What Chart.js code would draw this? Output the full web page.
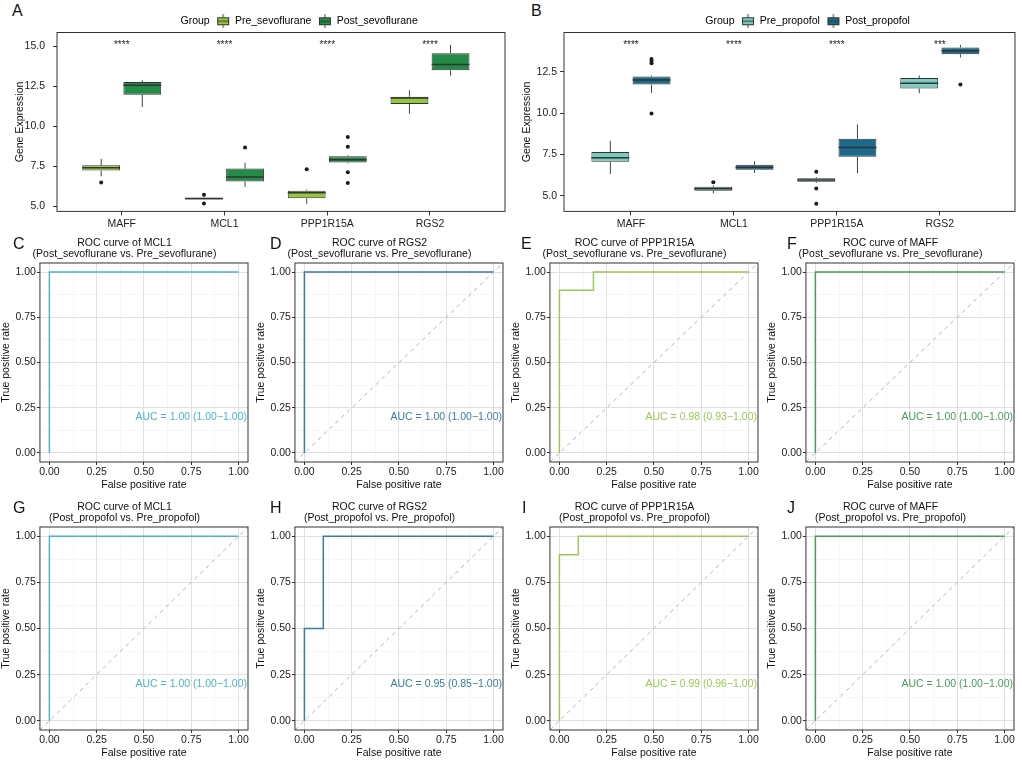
<!DOCTYPE html>
<html>
<head>
<meta charset="utf-8">
<title>Gene expression and ROC curves</title>
<script src="https://cdn.jsdelivr.net/npm/chart.js@4.4.1/dist/chart.umd.min.js"></script>
<style>
  html, body { margin: 0; padding: 0; background: #fff; }
  body { position: relative; width: 1022px; height: 760px; overflow: hidden; font-family: 'Liberation Sans', Arial, sans-serif; }
  canvas { position: absolute; }
  .tag { position: absolute; font-size: 16px; line-height: 16px; color: #111; }
</style>
</head>
<body>
<div class="tag" style="left:12px;top:3px">A</div>
<div class="tag" style="left:531px;top:3px">B</div>
<canvas id="boxA" width="510" height="232" style="left:0;top:0"></canvas>
<canvas id="boxB" width="512" height="232" style="left:510px;top:0"></canvas>
<script>
'use strict';

// ---- box plot data ----
var genes = ['MAFF', 'MCL1', 'PPP1R15A', 'RGS2'];

// each entry: [lower whisker, Q1, median, Q3, upper whisker]
var preSevoStats  = [[6.88, 7.24, 7.41, 7.57, 7.97], [5.40, 5.42, 5.48, 5.54, 5.57], [5.15, 5.50, 5.84, 5.98, 6.05], [10.79, 11.40, 11.78, 11.86, 12.26]];
var postSevoStats = [[11.21, 11.99, 12.57, 12.78, 12.89], [6.21, 6.55, 6.84, 7.36, 7.72], [7.68, 7.74, 7.91, 8.14, 8.20], [13.18, 13.51, 13.87, 14.58, 15.10]];
var preSevoOutliers  = [[6.49], [5.73, 5.17], [7.32], []];
var postSevoOutliers = [[], [8.68], [9.33, 8.72, 7.13, 6.46], []];
var sevoStars = ['****', '****', '****', '****'];

var preProStats  = [[6.31, 7.06, 7.30, 7.64, 8.33], [5.14, 5.30, 5.42, 5.54, 5.62], [5.78, 5.85, 5.95, 6.05, 6.13], [11.21, 11.49, 11.81, 12.12, 12.28]];
var postProStats = [[11.23, 11.73, 12.00, 12.22, 12.28], [6.37, 6.57, 6.71, 6.87, 7.08], [6.35, 7.36, 7.92, 8.45, 9.31], [13.37, 13.57, 13.77, 13.97, 14.13]];
var preProOutliers  = [[], [5.81], [6.45, 5.44, 4.52], []];
var postProOutliers = [[13.27, 13.15, 13.02, 9.98], [], [], [11.73]];
var proStars = ['****', '****', '****', '***'];

var sevoYTicks = [5, 7.5, 10, 12.5, 15];
var sevoYLabels = ['5.0', '7.5', '10.0', '12.5', '15.0'];
var proYTicks = [5, 7.5, 10, 12.5];
var proYLabels = ['5.0', '7.5', '10.0', '12.5'];

// ---- ROC data ----
var fprMCL1Sevo = [0, 0, 1],             tprMCL1Sevo = [0, 1, 1];
var fprRGS2Sevo = [0, 0, 1],             tprRGS2Sevo = [0, 1, 1];
var fprPPPSevo  = [0, 0, 0.18, 0.18, 1], tprPPPSevo  = [0, 0.9, 0.9, 1, 1];
var fprMAFFSevo = [0, 0, 1],             tprMAFFSevo = [0, 1, 1];
var fprMCL1Pro  = [0, 0, 1],             tprMCL1Pro  = [0, 1, 1];
var fprRGS2Pro  = [0, 0, 0.1, 0.1, 1],   tprRGS2Pro  = [0, 0.5, 0.5, 1, 1];
var fprPPPPro   = [0, 0, 0.1, 0.1, 1],   tprPPPPro   = [0, 0.9, 0.9, 1, 1];
var fprMAFFPro  = [0, 0, 1],             tprMAFFPro  = [0, 1, 1];
var chanceFpr = [-0.05, 1.05], chanceTpr = [-0.05, 1.05];

var aucMCL1Sevo = 'AUC = 1.00 (1.00\u22121.00)';
var aucRGS2Sevo = 'AUC = 1.00 (1.00\u22121.00)';
var aucPPPSevo  = 'AUC = 0.98 (0.93\u22121.00)';
var aucMAFFSevo = 'AUC = 1.00 (1.00\u22121.00)';
var aucMCL1Pro  = 'AUC = 1.00 (1.00\u22121.00)';
var aucRGS2Pro  = 'AUC = 0.95 (0.85\u22121.00)';
var aucPPPPro   = 'AUC = 0.99 (0.96\u22121.00)';
var aucMAFFPro  = 'AUC = 1.00 (1.00\u22121.00)';
var aucPos = [0.75, 0.2];

var rocGridTicks = [0, 0.125, 0.25, 0.375, 0.5, 0.625, 0.75, 0.875, 1];
var rocMajorTicks = [0, 0.25, 0.5, 0.75, 1];
var rocTickLabels = ['0.00', '0.25', '0.50', '0.75', '1.00'];

// colours
var colPreSevo = '#96c83c', colPostSevo = '#238a48';
var colPrePro = '#7acdbe', colPostPro = '#1b6a8c';
var colMCL1 = '#4db5c9', colRGS2 = '#3a7ca0', colPPP = '#9dc956', colMAFF = '#4a9a5c';

Chart.defaults.font.family = "'Liberation Sans', Arial, sans-serif";
Chart.defaults.font.size = 10.5;
Chart.defaults.color = '#222';
Chart.defaults.animation = false;

// full border round the plotting panel
var panelFrame = {
  id: 'panelFrame',
  afterDatasetsDraw: function (chart) {
    var a = chart.chartArea, c = chart.ctx;
    c.save();
    c.strokeStyle = '#333';
    c.lineWidth = 1;
    c.strokeRect(a.left, a.top, a.right - a.left, a.bottom - a.top);
    c.restore();
  }
};

// whiskers, medians, outliers and significance stars for the box plots
var boxParts = {
  id: 'boxParts',
  afterDatasetsDraw: function (chart, args, opts) {
    var c = chart.ctx, y = chart.scales.y, x = chart.scales.x;
    chart.data.datasets.forEach(function (ds, di) {
      var meta = chart.getDatasetMeta(di);
      meta.data.forEach(function (bar, i) {
        var s = ds.stats[i], half = bar.width / 2;
        c.save();
        c.strokeStyle = '#444';
        c.lineWidth = 1;
        c.beginPath();
        c.moveTo(bar.x, y.getPixelForValue(s[3])); c.lineTo(bar.x, y.getPixelForValue(s[4]));
        c.moveTo(bar.x, y.getPixelForValue(s[1])); c.lineTo(bar.x, y.getPixelForValue(s[0]));
        c.stroke();
        var ym = y.getPixelForValue(s[2]);
        c.strokeStyle = '#333';
        c.lineWidth = 1.5;
        c.beginPath(); c.moveTo(bar.x - half, ym); c.lineTo(bar.x + half, ym); c.stroke();
        c.fillStyle = '#1a1a1a';
        ds.outliers[i].forEach(function (v) {
          c.beginPath(); c.arc(bar.x, y.getPixelForValue(v), 2, 0, Math.PI * 2); c.fill();
        });
        c.restore();
      });
    });
    // asterisks sit high in the em box, so put the baseline under the value
    c.save();
    c.fillStyle = '#222';
    c.font = "10px 'Liberation Sans'";
    c.textAlign = 'center';
    c.textBaseline = 'alphabetic';
    opts.stars.forEach(function (t, i) {
      c.fillText(t, x.getPixelForValue(i), y.getPixelForValue(opts.starY) + 5.5);
    });
    c.restore();
  }
};

// ggplot centres its legend over the panel and sits it a bit lower
var legendShift = {
  id: 'legendShift',
  afterLayout: function (chart, args, opts) {
    var lg = chart.legend;
    if (!lg) return;
    lg.left += opts.dx; lg.right += opts.dx;
    lg.top += opts.dy; lg.bottom += opts.dy;
  }
};

var aucLabel = {
  id: 'aucLabel',
  afterDatasetsDraw: function (chart, args, o) {
    var c = chart.ctx;
    c.save();
    c.fillStyle = o.color;
    c.font = "10.5px 'Liberation Sans'";
    c.textAlign = 'center';
    c.textBaseline = 'middle';
    c.fillText(o.text, chart.scales.x.getPixelForValue(aucPos[0]), chart.scales.y.getPixelForValue(aucPos[1]));
    c.restore();
  }
};

function keyIcon(fill) {
  var cv = document.createElement('canvas');
  cv.width = 14; cv.height = 14;
  var g = cv.getContext('2d');
  g.strokeStyle = '#444'; g.lineWidth = 1;
  g.beginPath(); g.moveTo(7, 0); g.lineTo(7, 14); g.stroke();
  g.fillStyle = fill;
  g.fillRect(1.5, 3.5, 11, 7);
  g.strokeStyle = '#333';
  g.strokeRect(1.5, 3.5, 11, 7);
  g.beginPath(); g.moveTo(1.5, 7); g.lineTo(12.5, 7); g.stroke();
  return cv;
}
var blankKey = document.createElement('canvas');
blankKey.width = 1; blankKey.height = 1;

function boxSet(label, stats, outliers, col) {
  return {
    label: label,
    data: genes.map(function (g, i) { return { x: i, y: [stats[i][1], stats[i][3]] }; }),
    backgroundColor: col,
    borderColor: '#333',
    borderWidth: 1,
    borderSkipped: false,
    categoryPercentage: 0.8,
    barPercentage: 0.92,
    stats: stats,
    outliers: outliers
  };
}

function boxChart(id, o) {
  return new Chart(document.getElementById(id), {
    type: 'bar',
    data: { datasets: [
      boxSet(o.names[0], o.preStats, o.preOut, o.preCol),
      boxSet(o.names[1], o.postStats, o.postOut, o.postCol)
    ] },
    options: {
      responsive: false,
      layout: { padding: o.pad },
      plugins: {
        tooltip: { enabled: false },
        legend: {
          position: 'top',
          onClick: function () {},
          labels: {
            usePointStyle: true,
            pointStyleWidth: 13,
            padding: 7,
            color: '#111',
            font: { size: 10.5 },
            generateLabels: function (chart) {
              var items = [{ text: 'Group', pointStyle: blankKey, fillStyle: 'rgba(0,0,0,0)', strokeStyle: 'rgba(0,0,0,0)', lineWidth: 0, hidden: false, datasetIndex: -1 }];
              chart.data.datasets.forEach(function (ds, i) {
                items.push({ text: ds.label, pointStyle: keyIcon(ds.backgroundColor), fillStyle: ds.backgroundColor, strokeStyle: '#333', lineWidth: 1, hidden: false, datasetIndex: i });
              });
              return items;
            }
          }
        },
        boxParts: { stars: o.stars, starY: o.starY },
        legendShift: { dx: o.legendDx, dy: 4 }
      },
      scales: {
        x: {
          type: 'linear', min: o.xMin, max: o.xMax, offset: false,
          afterBuildTicks: function (s) { s.ticks = genes.map(function (g, i) { return { value: i }; }); },
          ticks: { autoSkip: false, maxRotation: 0, padding: 2, color: '#222', callback: function (v) { return genes[v]; } },
          grid: { drawOnChartArea: false, offset: false, tickLength: 4, color: '#333' },
          border: { display: false }
        },
        y: {
          min: o.yMin, max: o.yMax,
          afterBuildTicks: function (s) { s.ticks = o.yTicks.map(function (v) { return { value: v }; }); },
          afterFit: function (s) { s.width = o.yAxisWidth; },
          ticks: { padding: o.yTickPad, color: '#222', callback: function (v) { return o.yLabels[o.yTicks.indexOf(v)]; } },
          grid: { drawOnChartArea: false, tickLength: 4, color: '#333' },
          border: { display: false },
          title: { display: true, text: 'Gene Expression', color: '#111', padding: { top: 3, bottom: 1 } }
        }
      }
    },
    plugins: [boxParts, panelFrame, legendShift]
  });
}

boxChart('boxA', {
  names: ['Pre_sevoflurane', 'Post_sevoflurane'],
  preStats: preSevoStats, postStats: postSevoStats,
  preOut: preSevoOutliers, postOut: postSevoOutliers,
  preCol: colPreSevo, postCol: colPostSevo,
  stars: sevoStars, starY: 15.25,
  yTicks: sevoYTicks, yLabels: sevoYLabels, yMin: 4.68, yMax: 15.88,
  xMin: -0.63, xMax: 3.73,
  yTickPad: 8, yAxisWidth: 46,
  pad: { left: 11, right: 5, top: 5, bottom: 0 },
  legendDx: 32
});

boxChart('boxB', {
  names: ['Pre_propofol', 'Post_propofol'],
  preStats: preProStats, postStats: postProStats,
  preOut: preProOutliers, postOut: postProOutliers,
  preCol: colPrePro, postCol: colPostPro,
  stars: proStars, starY: 14.27,
  yTicks: proYTicks, yLabels: proYLabels, yMin: 4.05, yMax: 14.88,
  xMin: -0.65, xMax: 3.73,
  yTickPad: 3, yAxisWidth: 46,
  pad: { left: 8, right: 7, top: 5, bottom: 0 },
  legendDx: 32
});

// ---- ROC panels ----
function isMajor(v) { return rocMajorTicks.indexOf(v) >= 0; }

function rocScale(title, isX) {
  return {
    type: 'linear', min: -0.05, max: 1.05,
    afterBuildTicks: function (s) { s.ticks = rocGridTicks.map(function (v) { return { value: v }; }); },
    ticks: {
      autoSkip: false, maxRotation: 0, padding: isX ? 2 : 1, color: '#222',
      font: { size: 10.5, lineHeight: 1 },
      callback: function (v) { var k = rocMajorTicks.indexOf(v); return k < 0 ? '' : rocTickLabels[k]; }
    },
    grid: {
      color: function (c) { return isMajor(c.tick && c.tick.value) ? '#e0e0e0' : '#f0f0f0'; },
      lineWidth: function (c) { return isMajor(c.tick && c.tick.value) ? 1 : 0.6; },
      tickColor: function (c) { return isMajor(c.tick && c.tick.value) ? '#333' : 'rgba(0,0,0,0)'; },
      tickLength: 3
    },
    border: { display: false },
    title: { display: true, text: title, color: '#111', font: { size: 10.5, lineHeight: 1 },
             padding: isX ? { top: 0, bottom: 0 } : { top: 0, bottom: 3 } }
  };
}

var sevoCompare = '(Post_sevoflurane vs. Pre_sevoflurane)';
var proCompare = '(Post_propofol vs. Pre_propofol)';

var rocPanels = [
  { tag: 'C', left: 0,   top: 226, h: 268, padB: 4, tagX: 13,  gene: 'MCL1',     cmp: sevoCompare, fpr: fprMCL1Sevo, tpr: tprMCL1Sevo, col: colMCL1, auc: aucMCL1Sevo, diag: false },
  { tag: 'D', left: 255, top: 226, h: 268, padB: 4, tagX: 270, gene: 'RGS2',     cmp: sevoCompare, fpr: fprRGS2Sevo, tpr: tprRGS2Sevo, col: colRGS2, auc: aucRGS2Sevo, diag: true },
  { tag: 'E', left: 510, top: 226, h: 268, padB: 4, tagX: 521, gene: 'PPP1R15A', cmp: sevoCompare, fpr: fprPPPSevo,  tpr: tprPPPSevo,  col: colPPP,  auc: aucPPPSevo,  diag: true },
  { tag: 'F', left: 766, top: 226, h: 268, padB: 4, tagX: 787, gene: 'MAFF',     cmp: sevoCompare, fpr: fprMAFFSevo, tpr: tprMAFFSevo, col: colMAFF, auc: aucMAFFSevo, diag: true },
  { tag: 'G', left: 0,   top: 490, h: 270, padB: 2, tagX: 13,  gene: 'MCL1',     cmp: proCompare,  fpr: fprMCL1Pro,  tpr: tprMCL1Pro,  col: colMCL1, auc: aucMCL1Pro,  diag: true },
  { tag: 'H', left: 255, top: 490, h: 270, padB: 2, tagX: 270, gene: 'RGS2',     cmp: proCompare,  fpr: fprRGS2Pro,  tpr: tprRGS2Pro,  col: colRGS2, auc: aucRGS2Pro,  diag: true },
  { tag: 'I', left: 510, top: 490, h: 270, padB: 2, tagX: 522, gene: 'PPP1R15A', cmp: proCompare,  fpr: fprPPPPro,   tpr: tprPPPPro,   col: colPPP,  auc: aucPPPPro,   diag: true },
  { tag: 'J', left: 766, top: 490, h: 270, padB: 2, tagX: 787, gene: 'MAFF',     cmp: proCompare,  fpr: fprMAFFPro,  tpr: tprMAFFPro,  col: colMAFF, auc: aucMAFFPro,  diag: true }
];

rocPanels.forEach(function (p) {
  var cv = document.createElement('canvas');
  cv.width = 256; cv.height = p.h;
  cv.style.left = p.left + 'px'; cv.style.top = p.top + 'px';
  document.body.appendChild(cv);

  var tag = document.createElement('div');
  tag.className = 'tag';
  tag.textContent = p.tag;
  tag.style.left = p.tagX + 'px';
  tag.style.top = (p.top + 10) + 'px';
  document.body.appendChild(tag);

  var sets = [];
  if (p.diag) {
    sets.push({
      data: chanceFpr.map(function (f, i) { return { x: f, y: chanceTpr[i] }; }),
      borderColor: '#b3b3b3', borderWidth: 1, borderDash: [4, 4], pointRadius: 0
    });
  }
  sets.push({
    data: p.fpr.map(function (f, i) { return { x: f, y: p.tpr[i] }; }),
    borderColor: p.col, borderWidth: 1.5, pointRadius: 0, tension: 0
  });

  new Chart(cv, {
    type: 'line',
    data: { datasets: sets },
    options: {
      responsive: false,
      layout: { padding: { left: 1, right: 8, top: 0, bottom: p.padB } },
      plugins: {
        legend: { display: false },
        tooltip: { enabled: false },
        title: {
          display: true,
          text: ['ROC curve of ' + p.gene, p.cmp],
          color: '#111',
          font: { size: 10.5, weight: 'normal', lineHeight: 1 },
          padding: { top: 12, bottom: 4 }
        },
        aucLabel: { text: p.auc, color: p.col }
      },
      scales: {
        x: rocScale('False positive rate', true),
        y: rocScale('True positive rate', false)
      }
    },
    plugins: [panelFrame, aucLabel]
  });
});
</script>
</body>
</html>
